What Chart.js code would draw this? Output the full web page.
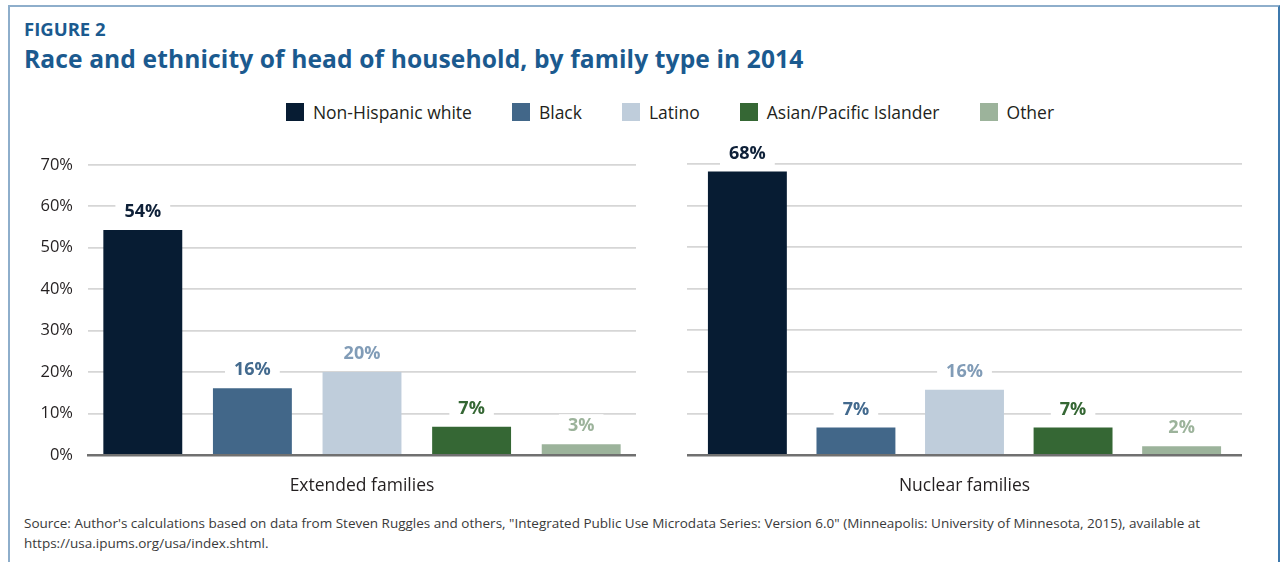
<!DOCTYPE html>
<html>
<head>
<meta charset="utf-8">
<script src="https://cdn.jsdelivr.net/npm/chart.js@4.4.1/dist/chart.umd.min.js"></script>
<style>
  html, body { margin: 0; padding: 0; background: #fff; }
  body { width: 1284px; height: 562px; position: relative; overflow: hidden; font-family: "Open Sans", sans-serif; }
  .frame { position: absolute; left: 8px; top: 5px; width: 1268px; height: 600px;
           border-left: 2px solid #8eaecb; border-top: 2px solid #8eaecb; border-right: 2px solid #3d79ad; }
  .fig { position: absolute; left: 24px; top: 19.5px; line-height: 1; font-weight: 700; font-size: 18.5px; color: #1b5a8f; }
  .title { position: absolute; left: 24px; top: 47px; line-height: 1; font-weight: 700; font-size: 24.6px; letter-spacing: 0.1px; color: #1b5a8f; white-space: nowrap; }
  .legend { position: absolute; top: 100px; left: 0; width: 1340px; display: flex; justify-content: center; gap: 40px; }
  .legend .item { display: flex; align-items: center; font-size: 17.5px; color: #231f20; }
  .legend .sw { width: 18px; height: 18px; margin-right: 9px; }
  .source { position: absolute; left: 24px; top: 513px; font-size: 13.5px; line-height: 20px; color: #3a3a3a; width: 1250px; white-space: nowrap; }
  canvas { position: absolute; }
  #left { left: 20px; top: 140px; }
  #right { left: 687px; top: 140px; }
</style>
</head>
<body>
<div class="frame"></div>
<div class="fig">FIGURE 2</div>
<div class="title">Race and ethnicity of head of household, by family type in 2014</div>
<div class="legend" id="legend"></div>
<canvas id="left" width="616" height="363"></canvas>
<canvas id="right" width="555" height="363"></canvas>
<div class="source">Source: Author's calculations based on data from Steven Ruggles and others, "Integrated Public Use Microdata Series: Version 6.0" (Minneapolis: University of Minnesota, 2015), available at<br>https://usa.ipums.org/usa/index.shtml.</div>

<script>
// Race / ethnicity groups and their shares (%) of heads of household
const groups = ['Non-Hispanic white', 'Black', 'Latino', 'Asian/Pacific Islander', 'Other'];
const extendedFamilies = [54.3, 16.1, 20.0, 6.8, 2.6];
const nuclearFamilies = [68.2, 6.6, 15.7, 6.6, 2.1];
const panelLabels = ['Extended families', 'Nuclear families'];
const yTicks = [0, 10, 20, 30, 40, 50, 60, 70];

const barColors = ['#071c33', '#426789', '#bfcddb', '#356734', '#9cb39b'];
const valueColors = ['#0e2038', '#436a8e', '#819cb7', '#356734', '#9cb39b'];

// HTML legend built from the group names and colours
const legendEl = document.getElementById('legend');
groups.forEach((g, i) => {
  const item = document.createElement('div');
  item.className = 'item';
  const sw = document.createElement('span');
  sw.className = 'sw';
  sw.style.background = barColors[i];
  item.appendChild(sw);
  item.appendChild(document.createTextNode(g));
  legendEl.appendChild(item);
});

// Value labels above each bar, on a white plate that interrupts the gridlines
const valueLabels = {
  id: 'valueLabels',
  afterDatasetsDraw(chart) {
    const ctx = chart.ctx;
    ctx.save();
    ctx.font = 'bold 18px "Open Sans", sans-serif';
    ctx.textAlign = 'center';
    ctx.textBaseline = 'middle';
    chart.data.datasets.forEach((ds, di) => {
      const meta = chart.getDatasetMeta(di);
      meta.data.forEach((bar, i) => {
        const txt = Math.round(ds.data[i]) + '%';
        const w = ctx.measureText(txt).width + 18;
        const cy = bar.y - 18;
        ctx.fillStyle = '#ffffff';
        ctx.fillRect(bar.x - w / 2, cy - 12, w, 24);
        ctx.fillStyle = valueColors[di];
        ctx.fillText(txt, bar.x, cy);
      });
    });
    ctx.restore();
  }
};

function makePanel(id, values, label, showTicks, catPct, barPct) {
  return new Chart(document.getElementById(id), {
    type: 'bar',
    data: {
      labels: [label],
      datasets: groups.map((g, i) => ({
        label: g,
        data: [values[i]],
        backgroundColor: barColors[i],
        categoryPercentage: catPct,
        barPercentage: barPct
      }))
    },
    options: {
      responsive: false,
      animation: false,
      layout: { padding: { top: 24, left: 0, right: 0, bottom: 0 } },
      plugins: { legend: { display: false }, tooltip: { enabled: false } },
      scales: {
        x: {
          grid: { display: false, drawTicks: false },
          border: { display: true, color: '#707070', width: 2.5, z: 1 },
          ticks: { color: '#231f20', font: { family: '"Open Sans", sans-serif', size: 17.5 }, padding: 21 },
          afterFit(s) { s.height = 48; }
        },
        y: {
          min: 0,
          max: 70,
          afterBuildTicks(s) { s.ticks = yTicks.map(v => ({ value: v })); },
          grid: { color: '#d6d6d6', lineWidth: 1.8, drawTicks: false },
          border: { display: false },
          ticks: {
            display: showTicks,
            padding: 15,
            color: '#231f20',
            font: { family: '"Open Sans", sans-serif', size: 16.5 },
            callback: v => v + '%'
          },
          afterFit(s) { s.width = showTicks ? 68 : 0; }
        }
      }
    },
    plugins: [valueLabels]
  });
}

makePanel('left', extendedFamilies, panelLabels[0], true, 1, 0.72);
makePanel('right', nuclearFamilies, panelLabels[1], false, 0.978, 0.727);
</script>
</body>
</html>
